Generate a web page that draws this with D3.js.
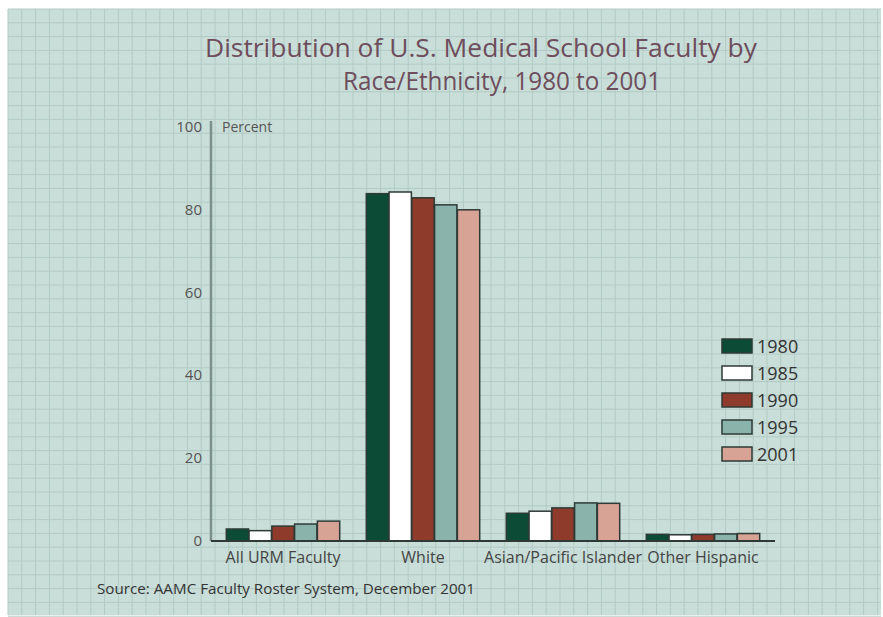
<!DOCTYPE html>
<html>
<head>
<meta charset="utf-8">
<script src="https://cdn.jsdelivr.net/npm/d3@7"></script>
<style>
  body { margin: 0; background: #fff; }
  text { font-family: "Open Sans", sans-serif; }
</style>
</head>
<body>
<script>
const width = 883;
const height = 617;

// data
const categories = ["All URM Faculty", "White", "Asian/Pacific Islander", "Other Hispanic"];
const years = ["1980", "1985", "1990", "1995", "2001"];
const values1980 = [2.9, 83.9, 6.7, 1.6];
const values1985 = [2.5, 84.3, 7.2, 1.5];
const values1990 = [3.6, 82.9, 8.0, 1.6];
const values1995 = [4.1, 81.2, 9.2, 1.7];
const values2001 = [4.8, 80.0, 9.1, 1.8];
const yTicks = [0, 20, 40, 60, 80, 100];

const series = [values1980, values1985, values1990, values1995, values2001];
const colours = ["#0c4b36", "#ffffff", "#8e3b2b", "#8ab4ab", "#d7a394"];

const svg = d3.select("body").append("svg")
    .attr("width", width)
    .attr("height", height);

// panel background
svg.append("rect")
    .attr("x", 8).attr("y", 9)
    .attr("width", width - 10).attr("height", height - 11)
    .attr("fill", "#c9ded8");

// graph-paper grid
const grid = svg.append("g").attr("stroke", "#b2cbc4").attr("stroke-width", 1);
for (let x = 8; x < width; x += 13.8) {
    grid.append("line").attr("x1", x).attr("x2", x).attr("y1", 9).attr("y2", height - 2);
}
for (let y = 9; y < height; y += 13.8) {
    grid.append("line").attr("x1", 8).attr("x2", width - 2).attr("y1", y).attr("y2", y);
}

// title (condensed to match the narrow face of the original)
svg.append("text")
    .attr("x", 481).attr("y", 57)
    .attr("text-anchor", "middle")
    .attr("fill", "#6e4d5c")
    .attr("textLength", 552)
    .attr("lengthAdjust", "spacingAndGlyphs")
    .style("font-size", "26px")
    .text("Distribution of U.S. Medical School Faculty by");
svg.append("text")
    .attr("x", 502).attr("y", 90)
    .attr("text-anchor", "middle")
    .attr("fill", "#6e4d5c")
    .attr("textLength", 318)
    .attr("lengthAdjust", "spacingAndGlyphs")
    .style("font-size", "26px")
    .text("Race/Ethnicity, 1980 to 2001");

const margin = { left: 211, right: 775, top: 127, bottom: 541 };

const x = d3.scaleBand()
    .domain(categories)
    .range([213, 773])
    .paddingInner(0.19)
    .paddingOuter(0.095);

const xSub = d3.scaleBand()
    .domain(years)
    .range([0, x.bandwidth()])
    .paddingInner(0.02);

const y = d3.scaleLinear()
    .domain([0, 100])
    .range([margin.bottom, margin.top]);

// y axis line
svg.append("line")
    .attr("x1", margin.left).attr("x2", margin.left)
    .attr("y1", y(100) - 6).attr("y2", y(0))
    .attr("stroke", "#7d8f89")
    .attr("stroke-width", 2.5);

// y tick labels
svg.append("g")
    .selectAll("text")
    .data(yTicks)
    .join("text")
    .attr("x", 202)
    .attr("y", (d) => y(d) + 5)
    .attr("text-anchor", "end")
    .attr("fill", "#555")
    .style("font-size", "15px")
    .text((d) => d);

svg.append("text")
    .attr("x", 222)
    .attr("y", y(100) + 5)
    .attr("fill", "#555")
    .style("font-size", "14px")
    .text("Percent");

// bars
const groups = svg.append("g")
    .selectAll("g")
    .data(categories)
    .join("g")
    .attr("transform", (d) => `translate(${x(d)},0)`);

groups.selectAll("rect")
    .data((d, i) => years.map((yr, j) => ({ year: yr, value: series[j][i], colour: colours[j] })))
    .join("rect")
    .attr("x", (d) => xSub(d.year))
    .attr("width", xSub.bandwidth())
    .attr("y", (d) => y(d.value))
    .attr("height", (d) => y(0) - y(d.value))
    .attr("fill", (d) => d.colour)
    .attr("stroke", "#2e3a36")
    .attr("stroke-width", 1.5);

// baseline
svg.append("line")
    .attr("x1", margin.left).attr("x2", margin.right)
    .attr("y1", y(0)).attr("y2", y(0))
    .attr("stroke", "#2f3a36")
    .attr("stroke-width", 1.8);

// category labels
svg.append("g")
    .selectAll("text")
    .data(categories)
    .join("text")
    .attr("x", (d) => x(d) + x.bandwidth() / 2)
    .attr("y", 563)
    .attr("text-anchor", "middle")
    .attr("fill", "#444")
    .style("font-size", "16px")
    .text((d) => d);

// legend
const legend = svg.append("g")
    .selectAll("g")
    .data(years)
    .join("g")
    .attr("transform", (d, i) => `translate(722, ${339 + i * 27})`);

legend.append("rect")
    .attr("width", 30)
    .attr("height", 14)
    .attr("fill", (d, i) => colours[i])
    .attr("stroke", "#2e3a36")
    .attr("stroke-width", 1.5);

legend.append("text")
    .attr("x", 35)
    .attr("y", 14)
    .attr("fill", "#333")
    .style("font-size", "18px")
    .text((d) => d);

// source note
svg.append("text")
    .attr("x", 97)
    .attr("y", 594)
    .attr("fill", "#333")
    .attr("textLength", 378)
    .attr("lengthAdjust", "spacingAndGlyphs")
    .style("font-size", "14px")
    .text("Source:  AAMC Faculty Roster System, December 2001");
</script>
</body>
</html>
